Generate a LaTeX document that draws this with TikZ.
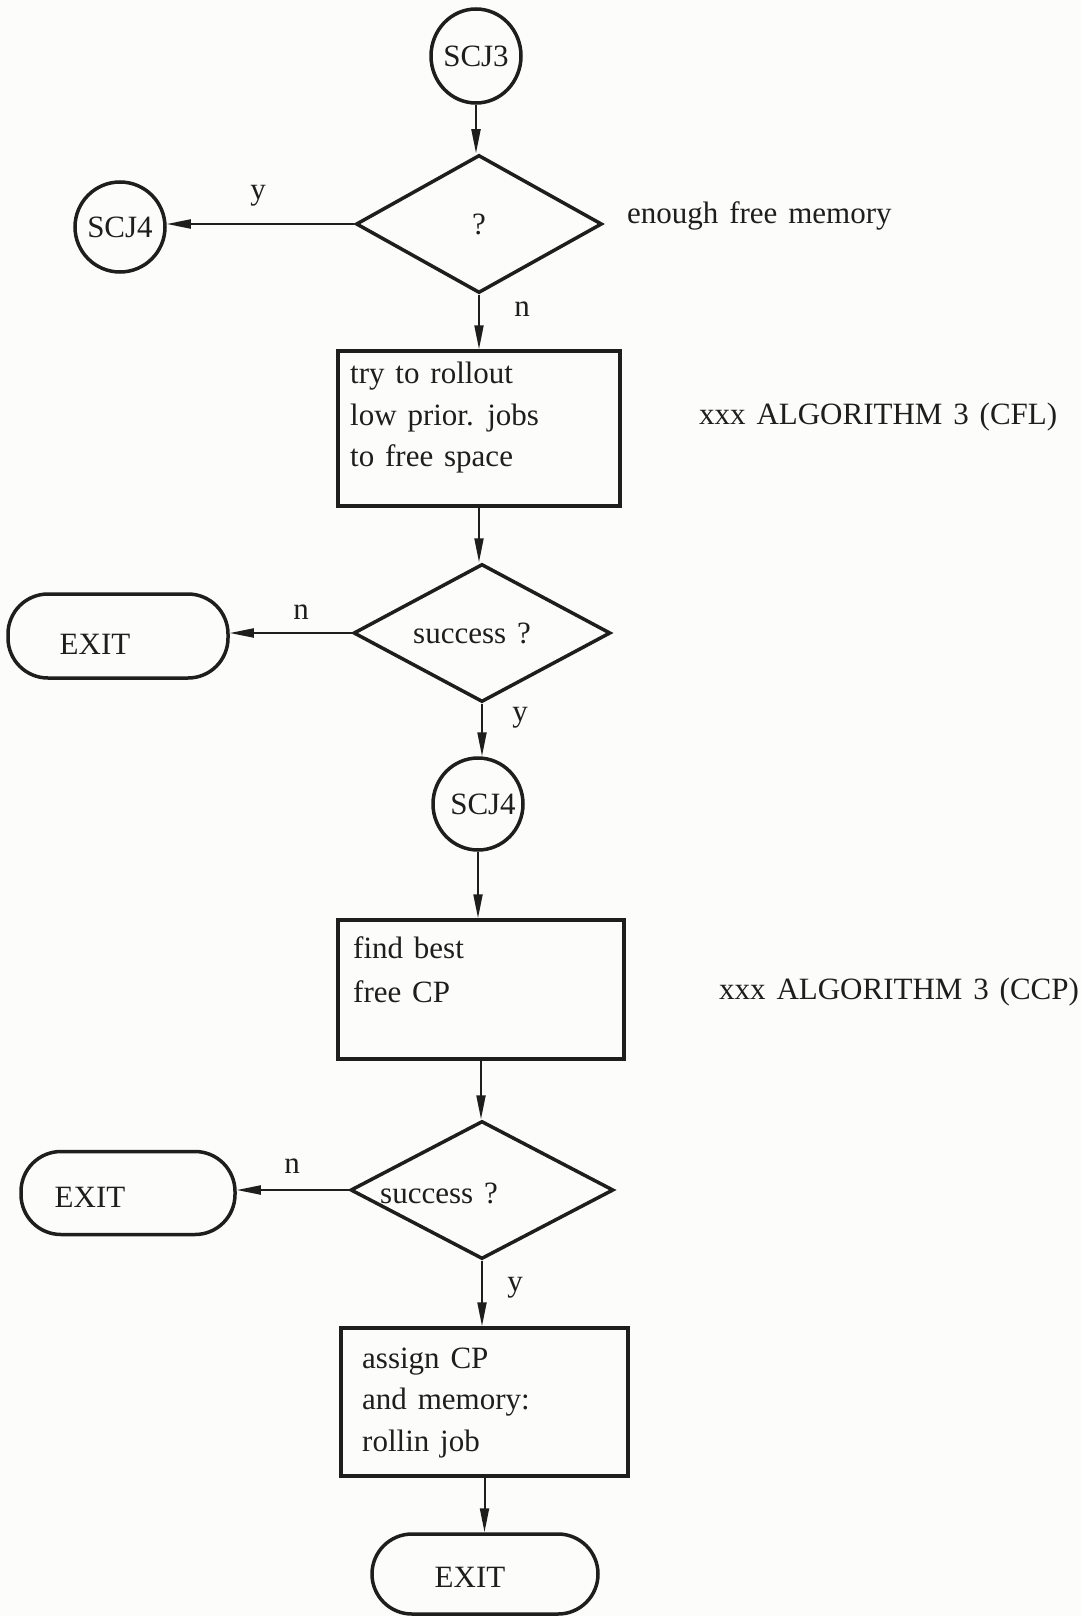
\documentclass[tikz,border=0pt]{standalone}
\usepackage{fontspec}
\setmainfont{Liberation Serif}[WordSpace=1.4]
\usetikzlibrary{shapes.geometric,arrows.meta}
\definecolor{ink}{HTML}{1E1E1E}
\definecolor{paper}{HTML}{FCFCFA}
\tikzset{
  every node/.style={text=ink},
  outline/.style={draw=ink, line width=3.5pt},
  connector/.style={draw=ink, line width=2pt, -{Triangle[length=24pt,width=9pt]}},
  connpt/.style={ellipse, outline, inner sep=0pt},
  decision/.style={diamond, outline, inner sep=0pt},
  stepbox/.style={rectangle, outline, inner sep=0pt},
  terminal/.style={rectangle, outline, inner sep=0pt, rounded corners=40pt},
  txt/.style={inner sep=0pt, align=left},
}
\begin{document}
\begin{tikzpicture}[x=1pt, y=-1pt, font=\fontsize{31}{41.5}\selectfont]
  \fill[paper] (0,0) rectangle (1081,1616);
  \useasboundingbox (0,0) rectangle (1081,1616);

  % top connector and first test
  \node[connpt, minimum width=90pt, minimum height=94pt] (scj3) at (476,56) {\makebox[0pt]{SCJ3}};
  \node[decision, minimum width=246pt, minimum height=138pt] (d1) at (479,224) {?};
  \node[connpt, minimum width=90pt, minimum height=90pt] (scj4a) at (120,227) {\makebox[0pt]{SCJ4}};
  \node[txt, anchor=west] (t1) at (627,216) {enough free memory};

  % rollout step
  \node[stepbox, minimum width=282pt, minimum height=155pt] (box1) at (479,428.5) {};
  \node[txt, anchor=west] (box1t) at (350,418) {try to rollout\\low prior. jobs\\to free space};
  \node[txt, anchor=west] (t2) at (699,417) {xxx ALGORITHM 3 (CFL)};

  % second test
  \node[decision, minimum width=257pt, minimum height=138pt] (d2) at (482,633) {};
  \node[txt] (d2t) at (472,633) {success ?};
  \node[terminal, minimum width=220pt, minimum height=84pt] (exit1) at (118,636) {};
  \node[txt] (exit1t) at (95,644) {EXIT};

  % second entry point and CP search
  \node[connpt, minimum width=90pt, minimum height=92pt] (scj4b) at (478,804) {\makebox[0pt]{\hspace{10pt}SCJ4}};
  \node[stepbox, minimum width=286pt, minimum height=139pt] (box2) at (481,989.5) {};
  \node[txt, anchor=west] (box2t) at (353,970) {find best\\[2.5pt]free CP};
  \node[txt, anchor=west] (t3) at (719,992) {xxx ALGORITHM 3 (CCP)};

  % third test
  \node[decision, minimum width=263pt, minimum height=138pt] (d3) at (482,1190) {};
  \node[txt] (d3t) at (439,1193) {success ?};
  \node[terminal, minimum width=214pt, minimum height=83pt] (exit2) at (128,1193) {};
  \node[txt] (exit2t) at (90,1197) {EXIT};

  % assignment and final exit
  \node[stepbox, minimum width=287pt, minimum height=148pt] (box3) at (484.5,1402) {};
  \node[txt, anchor=west] (box3t) at (362,1403) {assign CP\\and memory:\\rollin job};
  \node[terminal, minimum width=226pt, minimum height=80pt] (exit3) at (485,1574) {};
  \node[txt] (exit3t) at (470,1577) {EXIT};

  % branch labels
  \node[txt] (ly1) at (258,196) {y};
  \node[txt] (ln1) at (522,309) {n};
  \node[txt] (ln2) at (301,612) {n};
  \node[txt] (ly2) at (520,718) {y};
  \node[txt] (ln3) at (292,1166) {n};
  \node[txt] (ly3) at (515,1288) {y};

  % flow lines
  \draw[connector] (scj3.south) -- (scj3.south |- d1.north);
  \draw[connector] (d1.west) -- (d1.west -| scj4a.east);
  \draw[connector] (d1.south) -- (d1.south |- box1.north);
  \draw[connector] (box1.south) -- (box1.south |- d2.north);
  \draw[connector] (d2.west) -- (d2.west -| exit1.east);
  \draw[connector] (d2.south) -- (d2.south |- scj4b.north);
  \draw[connector] (scj4b.south) -- (scj4b.south |- box2.north);
  \draw[connector] (box2.south) -- (box2.south |- d3.north);
  \draw[connector] (d3.west) -- (d3.west -| exit2.east);
  \draw[connector] (d3.south) -- (d3.south |- box3.north);
  \draw[connector] (box3.south) -- (box3.south |- exit3.north);
\end{tikzpicture}
\end{document}
